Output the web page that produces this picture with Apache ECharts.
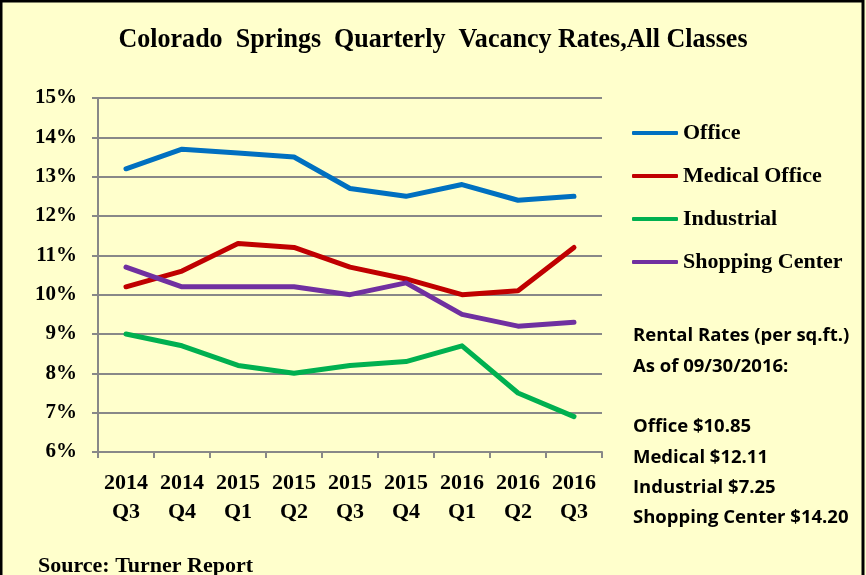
<!DOCTYPE html>
<html><head><meta charset="utf-8">
<script src="https://cdn.jsdelivr.net/npm/echarts@6/dist/echarts.min.js"></script>
<style>html,body{margin:0;padding:0;background:#FFFFCC}#c{width:866px;height:575px}</style>
</head><body><div id="c"></div>
<script>
const categories = ['2014\nQ3','2014\nQ4','2015\nQ1','2015\nQ2','2015\nQ3','2015\nQ4','2016\nQ1','2016\nQ2','2016\nQ3'];
const office = [13.2, 13.7, 13.6, 13.5, 12.7, 12.5, 12.8, 12.4, 12.5];
const medicalOffice = [10.2, 10.6, 11.3, 11.2, 10.7, 10.4, 10.0, 10.1, 11.2];
const industrial = [9.0, 8.7, 8.2, 8.0, 8.2, 8.3, 8.7, 7.5, 6.9];
const shoppingCenter = [10.7, 10.2, 10.2, 10.2, 10.0, 10.3, 9.5, 9.2, 9.3];
const seriesNames = ['Office','Medical Office','Industrial','Shopping Center'];
const colors = ['#0070C0','#C00000','#00B050','#7030A0'];
const rentalLines = ['Rental Rates (per sq.ft.)','As of 09/30/2016:','','Office $10.85','Medical $12.11','Industrial $7.25','Shopping Center $14.20'];
const titleText = 'Colorado  Springs  Quarterly  Vacancy Rates,All Classes';

const serif = '"Liberation Serif", "Times New Roman", serif';
const chart = echarts.init(document.getElementById('c'));
const dataArr = [office, medicalOffice, industrial, shoppingCenter];
chart.setOption({
  backgroundColor: '#FFFFCC',
  animation: false,
  legend: {
    orient: 'vertical', left: 627, top: 117, itemGap: 21,
    itemWidth: 46, itemHeight: 4,
    icon: 'roundRect',
    textStyle: {fontFamily: serif, fontWeight: 'bold', fontSize: 22, color: '#000'},
    data: seriesNames
  },
  grid: {left: 98, right: 264, top: 98, bottom: 123},
  xAxis: {
    type: 'category', data: categories, boundaryGap: true,
    axisLine: {lineStyle: {color: '#888', width: 2}},
    axisTick: {show: true, length: 6, lineStyle: {color: '#888', width: 2}},
    axisLabel: {fontFamily: serif, fontWeight: 'bold', fontSize: 22, color: '#000', lineHeight: 29, margin: 17, interval: 0}
  },
  yAxis: {
    type: 'value', min: 6, max: 15, interval: 1,
    axisLine: {show: true, lineStyle: {color: '#888', width: 2}},
    axisTick: {show: true, length: 6, lineStyle: {color: '#888', width: 2}},
    splitLine: {lineStyle: {color: '#888', width: 2}},
    axisLabel: {formatter: '{value}%', fontFamily: serif, fontWeight: 'bold', fontSize: 21, color: '#000', margin: 21}
  },
  series: seriesNames.map((n, i) => ({
    name: n, type: 'line', data: dataArr[i], symbol: 'none',
    lineStyle: {color: colors[i], width: 5, cap: 'round', join: 'round'},
    itemStyle: {color: colors[i]}
  })),
  graphic: [
    {type: 'rect', shape: {x: 1, y: 1, width: 862, height: 580}, style: {fill: 'none', stroke: '#000', lineWidth: 3}, silent: true},
    {type: 'text', x: 433, y: 40, scaleX: 0.93, style: {text: titleText, font: 'bold 28px ' + serif, align: 'center', verticalAlign: 'middle', fill: '#000'}},
    {type: 'text', left: 633, top: 321, style: {text: rentalLines.join('\n'), font: 'bold 18.5px "Open Sans", sans-serif', lineHeight: 30.3, fill: '#000'}},
    {type: 'text', left: 38, top: 555, style: {text: 'Source: Turner Report', font: 'bold 22px ' + serif, fill: '#000'}}
  ]
});
</script></body></html>
